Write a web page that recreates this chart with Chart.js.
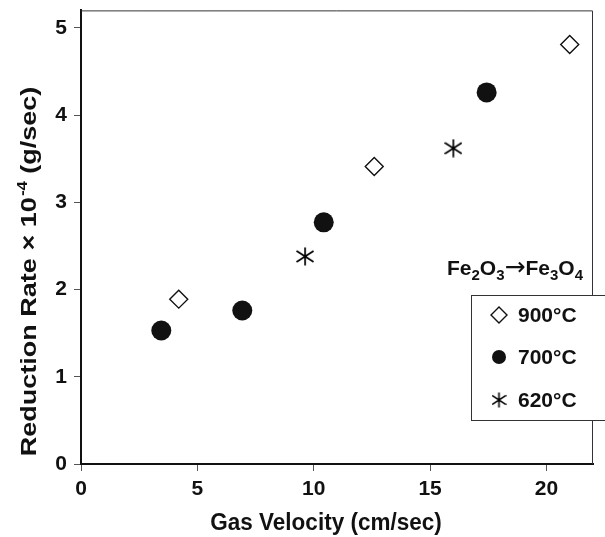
<!DOCTYPE html>
<html>
<head>
<meta charset="utf-8">
<script src="https://cdn.jsdelivr.net/npm/chart.js@4.4.1/dist/chart.umd.min.js"></script>
<style>
  html, body { margin: 0; padding: 0; background: #ffffff; }
  #c { display: block; }
</style>
</head>
<body>
<canvas id="c" width="605" height="537"></canvas>
<script>
// Reduction rate of Fe2O3 -> Fe3O4 versus gas velocity, three temperatures
const seriesLabels = ['900°C', '700°C', '620°C'];

const vel900 = [4.2, 12.6, 21.0];
const rate900 = [1.89, 3.41, 4.81];

const vel700 = [3.45, 6.93, 10.43, 17.43];
const rate700 = [1.53, 1.76, 2.77, 4.26];

const vel620 = [9.63, 16.0];
const rate620 = [2.38, 3.62];

const xTicks = [0, 5, 10, 15, 20];
const yTicks = [0, 1, 2, 3, 4, 5];

const FONT = '"Liberation Sans", Arial, Helvetica, sans-serif';
const INK = '#111111';
const TALL = 1.2;   // stretch of the y-title lettering along its length

const toPoints = (xs, ys) => xs.map((x, i) => ({ x: x, y: ys[i] }));

// six-armed asterisk used for the 620°C series
function makeAsterisk(w, h, lw) {
  const cv = document.createElement('canvas');
  cv.width = w; cv.height = h;
  const g = cv.getContext('2d');
  g.strokeStyle = '#000';
  g.lineWidth = lw;
  const cx = w / 2, cy = h / 2;
  const rx = w / 2 - 0.5, ry = h / 2 - 0.5;
  g.beginPath();
  g.moveTo(cx, cy - ry); g.lineTo(cx, cy + ry);
  g.moveTo(cx - rx, cy - ry * 0.62); g.lineTo(cx + rx, cy + ry * 0.62);
  g.moveTo(cx - rx, cy + ry * 0.62); g.lineTo(cx + rx, cy - ry * 0.62);
  g.stroke();
  g.fillStyle = '#000';
  g.beginPath(); g.arc(cx, cy, 1.6, 0, Math.PI * 2); g.fill();
  return cv;
}
const starBig = makeAsterisk(18, 19, 1.7);
const starSmall = makeAsterisk(15, 16, 1.6);

// frame, axis titles and the boxed key
const decorations = {
  id: 'decorations',
  afterDraw(chart) {
    const ctx = chart.ctx;
    const a = chart.chartArea;
    ctx.save();

    // thin top/right frame lines
    ctx.strokeStyle = '#333';
    ctx.lineWidth = 1;
    ctx.beginPath();
    ctx.moveTo(a.left, a.top + 0.5);
    ctx.lineTo(a.right - 0.5, a.top + 0.5);
    ctx.lineTo(a.right - 0.5, a.bottom);
    ctx.stroke();

    ctx.fillStyle = INK;
    ctx.textBaseline = 'alphabetic';

    // x axis title
    ctx.save();
    ctx.translate(326, 530);
    ctx.scale(1, 1.1);
    ctx.font = 'bold 22.5px ' + FONT;
    ctx.textAlign = 'center';
    ctx.fillText('Gas Velocity (cm/sec)', 0, 0);
    ctx.restore();

    // y axis title with superscript
    ctx.save();
    ctx.translate(36, 272);
    ctx.rotate(-Math.PI / 2);
    ctx.scale(TALL, 1);
    const p1 = 'Reduction Rate × 10', sup = '-4', p2 = ' (g/sec)';
    ctx.font = 'bold 22.5px ' + FONT;
    const w1 = ctx.measureText(p1).width, w3 = ctx.measureText(p2).width;
    ctx.font = 'bold 14px ' + FONT;
    const w2 = ctx.measureText(sup).width;
    let x0 = -(w1 + w2 + w3) / 2;
    ctx.textAlign = 'left';
    ctx.font = 'bold 22.5px ' + FONT;
    ctx.fillText(p1, x0, 0);
    ctx.font = 'bold 14px ' + FONT;
    ctx.fillText(sup, x0 + w1 + 1, -9);
    ctx.font = 'bold 22.5px ' + FONT;
    ctx.fillText(p2, x0 + w1 + w2 + 1, 0);
    ctx.restore();

    // reaction label with subscripts
    const parts = [['Fe', 0], ['2', 1], ['O', 0], ['3', 1], ['→', 2], ['Fe', 0], ['3', 1], ['O', 0], ['4', 1]];
    let tx = 447;
    const ty = 275;
    ctx.textAlign = 'left';
    parts.forEach(([t, kind]) => {
      if (kind === 1) {
        ctx.font = 'bold 15px ' + FONT;
        ctx.fillText(t, tx, ty + 5);
      } else if (kind === 2) {
        ctx.font = '25px "DejaVu Sans", ' + FONT;
        ctx.fillText(t, tx, ty);
      } else {
        ctx.font = 'bold 21px ' + FONT;
        ctx.fillText(t, tx, ty);
      }
      tx += ctx.measureText(t).width;
    });

    // key box
    const bx = 471, by = 295, bw = 150, bh = 126;
    ctx.fillStyle = '#ffffff';
    ctx.fillRect(bx, by, bw, bh);
    ctx.strokeStyle = '#333';
    ctx.lineWidth = 1;
    ctx.strokeRect(bx + 0.5, by + 0.5, bw, bh - 1);

    const rows = [315, 357, 400];
    const mx = 499;
    // diamond
    ctx.strokeStyle = INK; ctx.lineWidth = 1.4;
    ctx.beginPath();
    ctx.moveTo(mx, rows[0] - 8); ctx.lineTo(mx + 8, rows[0]); ctx.lineTo(mx, rows[0] + 8); ctx.lineTo(mx - 8, rows[0]); ctx.closePath();
    ctx.fillStyle = '#fff'; ctx.fill(); ctx.stroke();
    // disc
    ctx.fillStyle = INK;
    ctx.beginPath(); ctx.arc(mx, rows[1], 7, 0, Math.PI * 2); ctx.fill();
    // asterisk
    ctx.drawImage(starSmall, mx - starSmall.width / 2, rows[2] - starSmall.height / 2);

    ctx.fillStyle = INK;
    ctx.font = 'bold 21px ' + FONT;
    ctx.textBaseline = 'middle';
    seriesLabels.forEach((s, i) => ctx.fillText(s, 518, rows[i] + 1));

    ctx.restore();
  }
};

const chart = new Chart(document.getElementById('c'), {
  type: 'scatter',
  data: {
    datasets: [
      {
        label: seriesLabels[0],
        data: toPoints(vel900, rate900),
        pointStyle: 'rectRot',
        pointRadius: 9,
        pointHoverRadius: 9,
        backgroundColor: '#ffffff',
        borderColor: INK,
        borderWidth: 1.4
      },
      {
        label: seriesLabels[1],
        data: toPoints(vel700, rate700),
        pointStyle: 'circle',
        pointRadius: 10,
        pointHoverRadius: 10,
        backgroundColor: INK,
        borderColor: INK,
        borderWidth: 0
      },
      {
        label: seriesLabels[2],
        data: toPoints(vel620, rate620),
        pointStyle: starBig,
        pointRadius: 9,
        backgroundColor: INK,
        borderColor: INK
      }
    ]
  },
  options: {
    responsive: false,
    animation: false,
    devicePixelRatio: 1,
    layout: { padding: { left: 0, right: 12, top: 10, bottom: 0 } },
    plugins: {
      legend: { display: false },
      tooltip: { enabled: false }
    },
    scales: {
      x: {
        type: 'linear',
        min: 0,
        max: 22,
        afterBuildTicks: s => { s.ticks = xTicks.map(v => ({ value: v })); },
        afterFit: s => { s.height = 73; s.paddingLeft = 0; s.paddingRight = 0; },
        grid: { display: true, drawOnChartArea: false, drawTicks: true, tickLength: 7, color: '#555', lineWidth: 1 },
        border: { display: true, color: INK, width: 2 },
        ticks: {
          color: INK,
          padding: 6,
          font: { family: FONT, size: 21, weight: 'bold' }
        }
      },
      y: {
        type: 'linear',
        min: 0,
        max: 5.2,
        afterBuildTicks: s => { s.ticks = yTicks.map(v => ({ value: v })); },
        afterFit: s => { s.width = 81; s.paddingTop = 0; s.paddingBottom = 0; },
        grid: { display: true, drawOnChartArea: false, drawTicks: true, tickLength: 7, color: '#555', lineWidth: 1 },
        border: { display: true, color: INK, width: 2 },
        ticks: {
          color: INK,
          padding: 7,
          font: { family: FONT, size: 21, weight: 'bold' }
        }
      }
    }
  },
  plugins: [decorations]
});
</script>
</body>
</html>
